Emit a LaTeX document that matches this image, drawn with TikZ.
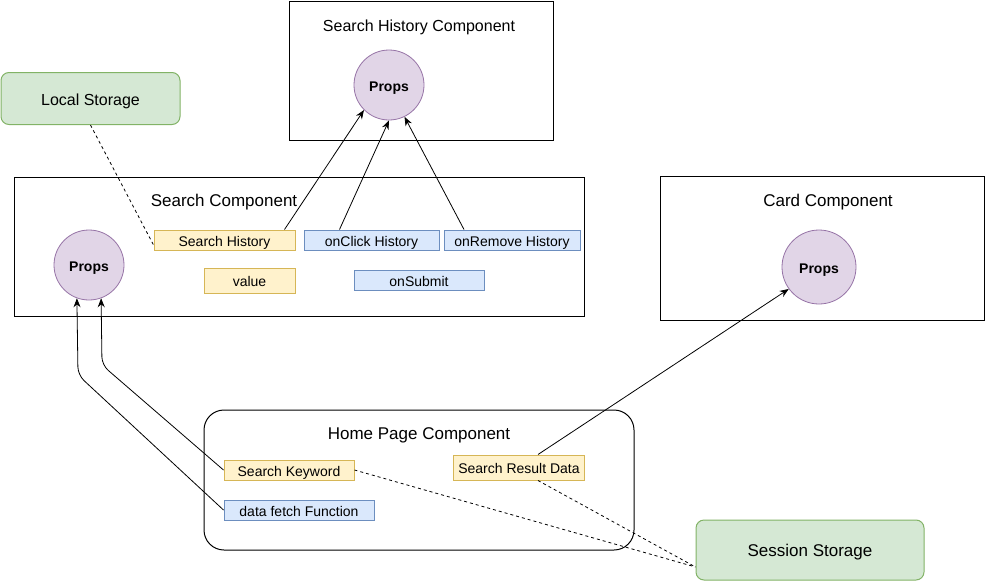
\documentclass[tikz,border=0pt]{standalone}
\usepackage{fontspec}
\setmainfont{Liberation Sans}
\usetikzlibrary{arrows.meta}
\definecolor{yfill}{HTML}{FFF2CC}
\definecolor{ydraw}{HTML}{D6B656}
\definecolor{bfill}{HTML}{DAE8FC}
\definecolor{bdraw}{HTML}{6C8EBF}
\definecolor{gfill}{HTML}{D5E8D4}
\definecolor{gdraw}{HTML}{82B366}
\definecolor{pfill}{HTML}{E1D5E7}
\definecolor{pdraw}{HTML}{9673A6}
\begin{document}
\begin{tikzpicture}[x=1pt,y=-1pt,
	comp/.style={draw,line width=1pt,inner sep=0pt},
	ttl/.style={text height=13pt,text depth=0pt,font=\fontsize{16}{19}\selectfont},
	bigttl/.style={ttl,font=\fontsize{17}{20}\selectfont},
	props/.style={text height=12pt,text depth=0pt,circle,draw=pdraw,fill=pfill,line width=.8pt,minimum size=70pt,inner sep=0pt,font=\fontsize{14}{17}\selectfont\bfseries},
	field/.style={text height=12pt,text depth=0pt,line width=1pt,minimum height=20pt,inner sep=0pt,font=\fontsize{14}{17}\selectfont},
	yfield/.style={field,draw=ydraw,fill=yfill},
	bfield/.style={field,draw=bdraw,fill=bfill},
	store/.style={text height=13pt,text depth=0pt,draw=gdraw,fill=gfill,line width=1pt,rounded corners=8pt,inner sep=0pt,font=\fontsize{16}{19}\selectfont},
	link/.style={-{Stealth[length=9pt,width=7pt]},line width=.8pt},
	dots/.style={dash pattern=on 3pt off 3pt,line width=.8pt}]
	\useasboundingbox (0,0) rectangle (985,581);
	% containers
	\node[comp,minimum width=264pt,minimum height=139pt] (shcomp) at (421,70.5) {};
	\node[comp,minimum width=570pt,minimum height=139pt] (scomp) at (299,246.5) {};
	\node[comp,minimum width=324pt,minimum height=144pt] (ccomp) at (822,248) {};
	\node[comp,rounded corners=20pt,minimum width=430pt,minimum height=140pt] (hcomp) at (419,480) {};
	\node[ttl] (shtitle) at (419,25) {Search History Component};
	\node[bigttl] (stitle) at (224,200) {Search Component};
	\node[bigttl] (ctitle) at (828,200) {Card Component};
	\node[bigttl] (htitle) at (419,433) {Home Page Component};
	% storages
	\node[store,minimum width=179pt,minimum height=52pt] (local) at (90.5,98.5) {Local Storage};
	\node[store,font=\fontsize{17}{20}\selectfont,minimum width=228pt,minimum height=60pt] (session) at (810,550) {Session Storage};
	% props
	\node[props] (shprops) at (389,85) {Props};
	\node[props] (sprops) at (89,265) {Props};
	\node[props,minimum size=74pt] (cprops) at (819,267) {Props};
	% fields
	\node[yfield,minimum width=141pt] (shist) at (224.5,240) {Search History};
	\node[bfield,minimum width=135pt] (click) at (371.5,240) {onClick History};
	\node[bfield,minimum width=136pt] (remove) at (512,240) {onRemove History};
	\node[yfield,minimum width=91pt,minimum height=25pt] (value) at (249.5,280.5) {value};
	\node[bfield,minimum width=130pt] (submit) at (419,280) {onSubmit};
	\node[yfield,minimum width=130pt] (keyword) at (289,470) {Search Keyword};
	\node[bfield,minimum width=150pt] (fetch) at (299,510) {data fetch Function};
	\node[yfield,minimum width=131pt,minimum height=25pt] (result) at (519,467.5) {Search Result Data};
	% arrows
	\draw[link] ([xshift=-11pt]shist.north east) -- (shprops.225);
	\draw[link] ([xshift=-32pt]click.north) -- (shprops.south);
	\draw[link] ([xshift=-48pt]remove.north) -- (shprops.296);
	\draw[link,rounded corners=8pt] (keyword.west) -- (102,365) -- (sprops.290);
	\draw[link,rounded corners=8pt] (fetch.west) -- (78,375) -- (sprops.250);
	\draw[link] ([xshift=19pt]result.north) -- (cprops.216);
	% storage links
	\draw[dots] (local.south) -- ([yshift=-5pt]shist.west);
	\draw[dots] (keyword.east) -- ([yshift=-17pt]session.west);
	\draw[dots] ([xshift=19pt]result.south) -- ([yshift=-17pt]session.west);
\end{tikzpicture}
\end{document}
